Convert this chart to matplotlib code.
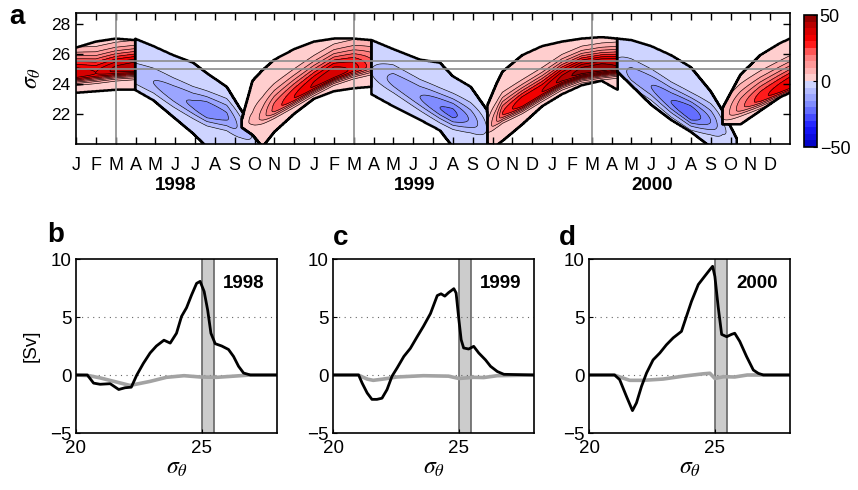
import numpy as np
import matplotlib
matplotlib.use("Agg")
import matplotlib.pyplot as plt
from matplotlib.colors import LinearSegmentedColormap, ListedColormap
from matplotlib.transforms import blended_transform_factory

plt.rcParams["font.family"] = ["Liberation Sans", "DejaVu Sans"]
plt.rcParams["mathtext.fontset"] = "stix"

# --- Panel a: outcrop bands, one small table per band ---
# columns: month (0 = 1 Jan 1998), lower edge, upper edge, core sigma, core value
RED_1998 = [(0.0, 23.4, 26.4, 24.6, 40), (1.0, 23.5, 26.8, 24.7, 35),
            (2.0, 23.6, 27.0, 24.9, 42), (2.97, 23.6, 26.9, 25.0, 45)]
BLUE_1998 = [(2.97, 23.6, 27.0, 24.6, -8), (3.9, 22.9, 26.5, 24.1, -10),
             (4.9, 21.8, 25.9, 23.3, -13), (5.9, 20.7, 25.4, 22.6, -16),
             (6.6, 19.8, 24.7, 22.2, -20), (7.6, 19.8, 23.8, 21.8, -16),
             (8.3, 19.8, 22.3, 21.0, -8), (9.4, 19.8, 20.2, 20.0, -2)]
RED_1999 = [(8.35, 21.1, 21.6, 21.35, 3), (8.9, 20.6, 24.2, 21.5, 6),
            (9.4, 19.8, 24.9, 21.8, 12), (10.0, 20.8, 25.6, 22.3, 22),
            (11.0, 22.0, 26.3, 23.1, 30), (12.0, 23.0, 26.8, 23.9, 36),
            (13.0, 23.5, 27.0, 24.6, 40), (14.0, 23.7, 27.0, 25.0, 33),
            (14.9, 23.8, 26.9, 25.2, 22)]
BLUE_1999 = [(14.9, 23.3, 26.9, 24.8, -5), (16.0, 22.5, 26.3, 24.2, -12),
             (17.35, 21.6, 25.6, 23.1, -15), (18.35, 20.9, 25.4, 22.4, -20),
             (19.0, 19.8, 24.5, 22.0, -22), (19.9, 19.8, 23.8, 21.6, -14),
             (20.7, 19.8, 22.3, 21.0, -5), (21.0, 19.8, 20.5, 20.2, -2)]
RED_2000 = [(20.75, 20.0, 22.6, 21.0, 6), (21.2, 19.9, 24.0, 21.6, 15),
            (21.5, 20.2, 24.8, 22.0, 25), (22.5, 21.3, 25.9, 22.7, 35),
            (23.5, 22.5, 26.5, 23.5, 35), (24.5, 23.3, 26.8, 24.3, 42),
            (25.5, 23.9, 27.0, 24.8, 48), (26.5, 24.2, 27.1, 25.0, 49),
            (27.3, 23.6, 27.0, 25.1, 45)]
BLUE_2000 = [(27.3, 24.8, 27.0, 25.2, -6), (28.0, 23.9, 26.9, 24.6, -12),
             (29.0, 22.6, 26.5, 23.8, -15), (30.0, 21.6, 25.9, 22.8, -20),
             (31.0, 20.8, 25.1, 22.0, -25), (32.0, 19.8, 23.5, 21.5, -15),
             (32.6, 19.8, 22.2, 21.0, -6), (33.3, 19.8, 20.4, 20.2, -2)]
RED_2001 = [(32.6, 21.3, 22.4, 21.8, 5), (33.5, 21.3, 24.6, 22.4, 18),
            (34.5, 22.2, 25.9, 23.0, 28), (35.5, 23.1, 26.7, 23.6, 33),
            (36.0, 23.4, 27.0, 23.9, 35)]
BANDS = [RED_1998, BLUE_1998, RED_1999, BLUE_1999, RED_2000, BLUE_2000, RED_2001]
WIDTH_BELOW = [0.35, 0.6, 0.35, 0.6, 0.35, 0.6, 0.35]
WIDTH_ABOVE = [0.9, 0.8, 1.0, 0.8, 0.8, 0.8, 1.0]

MONTHS = list("JFMAMJJASOND") * 3
YEARS = ["1998", "1999", "2000"]
MARCH_LINES = [2, 14, 26]
SIGMA_LINES = [25.0, 25.5]

# --- Panels b-d: transport profiles [Sv] vs sigma_theta ---
B_SIG = [20.0, 20.45, 20.7, 20.96, 21.36, 21.7, 21.95, 22.2, 22.42, 22.68, 22.95, 23.2,
         23.5, 23.75, 24.0, 24.2, 24.4, 24.6, 24.8, 24.94, 25.1, 25.24, 25.37, 25.54,
         25.8, 26.07, 26.27, 26.47, 26.67, 26.94, 28.0]
B_NET = [0, 0, -0.7, -0.8, -0.75, -1.25, -1.1, -1.05, 0.0, 1.0, 1.9, 2.5,
         3.0, 2.75, 3.6, 5.05, 5.8, 6.9, 7.9, 8.07, 7.2, 5.6, 3.6, 2.7,
         2.5, 2.2, 1.6, 0.75, 0.17, 0.0, 0.0]
B_GSIG = [20.0, 20.5, 20.96, 21.6, 22.15, 22.95, 23.6, 24.3, 24.94, 25.6, 26.27, 26.94, 28.0]
B_GREY = [0, -0.05, -0.25, -0.6, -0.9, -0.55, -0.2, -0.06, -0.17, -0.2, -0.1, 0, 0]

C_SIG = [20.0, 21.02, 21.16, 21.36, 21.55, 21.75, 21.95, 22.15, 22.35, 22.55, 22.82, 23.08,
         23.35, 23.6, 23.88, 24.15, 24.3, 24.45, 24.6, 24.81, 24.9, 25.01, 25.1, 25.2,
         25.4, 25.6, 25.8, 26.07, 26.27, 26.54, 26.8, 28.0]
C_NET = [0, 0, -0.7, -1.55, -2.1, -2.1, -2.0, -1.26, -0.1, 0.6, 1.6, 2.3,
         3.3, 4.2, 5.3, 6.85, 7.0, 6.8, 7.1, 7.44, 7.07, 4.77, 3.05, 2.33,
         2.24, 2.47, 1.9, 1.3, 0.75, 0.3, 0.06, 0]
C_GSIG = [20.0, 21.0, 21.36, 21.6, 22.0, 22.55, 23.6, 24.6, 25.01, 25.6, 26.0, 26.54, 28.0]
C_GREY = [0, 0, -0.35, -0.46, -0.35, -0.17, -0.06, -0.1, -0.3, -0.2, -0.22, -0.06, 0]

D_SIG = [20.0, 21.02, 21.22, 21.49, 21.73, 21.89, 22.09, 22.29, 22.55, 22.82, 23.08, 23.35,
         23.68, 23.88, 24.08, 24.35, 24.6, 24.81, 24.92, 25.01, 25.14, 25.28, 25.48, 25.67,
         25.8, 26.0, 26.27, 26.54, 26.74, 26.94, 28.0]
D_NET = [0, 0, -0.4, -1.84, -3.07, -2.4, -0.98, 0.17, 1.3, 1.9, 2.6, 3.2,
         3.76, 5.06, 6.35, 7.8, 8.5, 9.08, 9.37, 8.5, 5.9, 3.5, 3.3, 3.5,
         3.6, 2.9, 1.6, 0.43, 0.14, 0, 0]
D_GSIG = [20.0, 21.0, 21.62, 22.15, 22.95, 23.75, 24.54, 24.81, 25.01, 25.35, 25.8, 26.3, 28.0]
D_GREY = [0, 0, -0.46, -0.46, -0.35, -0.1, 0.1, 0.15, -0.3, -0.15, -0.17, 0, 0]

W, H = 858, 490


def px_axes(x0, y0, x1, y1):
    # pixel box (left, top, right, bottom) -> figure fraction rect
    return [x0 / W, 1 - y1 / H, (x1 - x0) / W, (y1 - y0) / H]


def band_values(T, S, nodes, wl, wu):
    nodes = np.array(nodes, dtype=float)
    t = nodes[:, 0]
    lo = np.interp(T, t, nodes[:, 1])
    hi = np.interp(T, t, nodes[:, 2])
    core = np.interp(T, t, nodes[:, 3])
    peak = np.interp(T, t, nodes[:, 4])
    w = np.where(S < core, wl, wu)
    v = peak * np.exp(-0.5 * ((S - core) / w) ** 2)
    v = np.sign(peak) * np.clip(np.abs(v), 0.5, 49.5)
    mask = (T >= t[0]) & (T <= t[-1]) & (S >= lo) & (S <= hi)
    return mask, v


fig = plt.figure(figsize=(W / 100, H / 100), dpi=100)

# ---------------- panel a ----------------
ax = fig.add_axes(px_axes(76, 13, 790, 144))
t_grid = np.arange(0, 36.001, 0.03)
s_grid = np.arange(19.6, 28.75, 0.02)
T, S = np.meshgrid(t_grid, s_grid)
field = np.full(T.shape, np.nan)
band_id = np.zeros(T.shape, dtype=int)
for k, nodes in enumerate(BANDS):
    m, v = band_values(T, S, nodes, WIDTH_BELOW[k], WIDTH_ABOVE[k])
    field[m] = v[m]
    band_id[m] = k + 1

anchors = [(0.0, (0.0, 0.0, 0.75)), (0.15, (0.1, 0.1, 1.0)), (0.3, (0.45, 0.5, 1.0)),
           (0.4999, (0.86, 0.88, 1.0)), (0.5001, (1.0, 0.86, 0.86)), (0.7, (1.0, 0.45, 0.45)),
           (0.8, (1.0, 0.0, 0.0)), (0.9, (0.8, 0.0, 0.0)), (1.0, (0.5, 0.0, 0.0))]
smooth = LinearSegmentedColormap.from_list("bwr_a", anchors)
cmap = ListedColormap(smooth((np.arange(20) + 0.5) / 20))
levels = np.arange(-50, 51, 5)

cf = ax.contourf(T, S, field, levels=levels, cmap=cmap)
ax.contour(T, S, field, levels=[l for l in levels if l != 0 and abs(l) < 50],
           colors="k", linewidths=0.45, negative_linestyles="solid")
for k in range(len(BANDS)):
    ax.contour(T, S, (band_id == k + 1).astype(float), levels=[0.5],
               colors="k", linewidths=1.8)
for t in MARCH_LINES:
    ax.axvline(t, color="0.55", lw=1.2)
for s in SIGMA_LINES:
    ax.axhline(s, color="0.55", lw=1.2)

ax.set_xlim(0, 36)
ax.set_ylim(20, 28.7)
ax.set_xticks(range(36))
ax.set_xticklabels(MONTHS, fontsize=13)
ax.set_yticks([22, 24, 26, 28])
ax.tick_params(axis="y", labelsize=12.5, pad=4)
ax.tick_params(direction="in", top=True, right=True, length=5, width=1)
ax.tick_params(axis="x", pad=9)
ax.set_ylabel(r"$\sigma_\theta$", fontsize=17, labelpad=6)
trans = blended_transform_factory(ax.transData, ax.transAxes)
for i, yr in enumerate(YEARS):
    ax.text(5.05 + 12 * i, -0.315, yr, transform=trans, fontsize=13.5,
            fontweight="bold", ha="center", va="center")
for sp in ax.spines.values():
    sp.set_linewidth(1.2)

cax = fig.add_axes(px_axes(804, 15, 817, 147))
cb = fig.colorbar(cf, cax=cax, ticks=[-50, 0, 50])
cb.ax.tick_params(labelsize=13, direction="in", length=3, pad=2)
cb.outline.set_linewidth(1.2)

# ---------------- panels b-d ----------------
profiles = [(B_SIG, B_NET, B_GSIG, B_GREY, "1998", 76),
            (C_SIG, C_NET, C_GSIG, C_GREY, "1999", 333),
            (D_SIG, D_NET, D_GSIG, D_GREY, "2000", 589)]
for i, (sig, net, gsig, grey, yr, left) in enumerate(profiles):
    bx = fig.add_axes(px_axes(left, 259, left + 201, 433))
    bx.axvspan(25.0, 25.5, color="0.8", lw=0, zorder=0)
    bx.axvline(25.0, color="0.4", lw=1.2, zorder=1)
    bx.axvline(25.5, color="0.4", lw=1.2, zorder=1)
    for y in [0, 5]:
        bx.axhline(y, color="0.4", lw=0.8, ls=(0, (1, 4)), zorder=1)
    bx.plot(gsig, grey, color="0.64", lw=2.6, zorder=2)
    bx.plot(sig, net, color="k", lw=2.0, zorder=3)
    bx.text(0.835, 0.862, yr, transform=bx.transAxes, fontsize=13.5,
            fontweight="bold", ha="center", va="center")
    bx.set_xlim(20, 28)
    bx.set_ylim(-5, 10)
    bx.set_xticks([20, 25])
    bx.set_yticks([-5, 0, 5, 10])
    bx.tick_params(labelsize=13.5, direction="in", length=3, pad=3)
    bx.tick_params(axis="x", pad=5)
    bx.set_xlabel(r"$\sigma_\theta$", fontsize=17, labelpad=0)
    if i == 0:
        bx.set_ylabel("[Sv]", fontsize=13.5, labelpad=8)
    for sp in bx.spines.values():
        sp.set_linewidth(1.2)

for letter, x, y in [("a", 17, 17), ("b", 56, 235), ("c", 341, 238), ("d", 567, 238)]:
    fig.text(x / W, 1 - y / H, letter, fontsize=20, fontweight="bold",
             ha="center", va="center")

fig.savefig("out.png", dpi=100)
